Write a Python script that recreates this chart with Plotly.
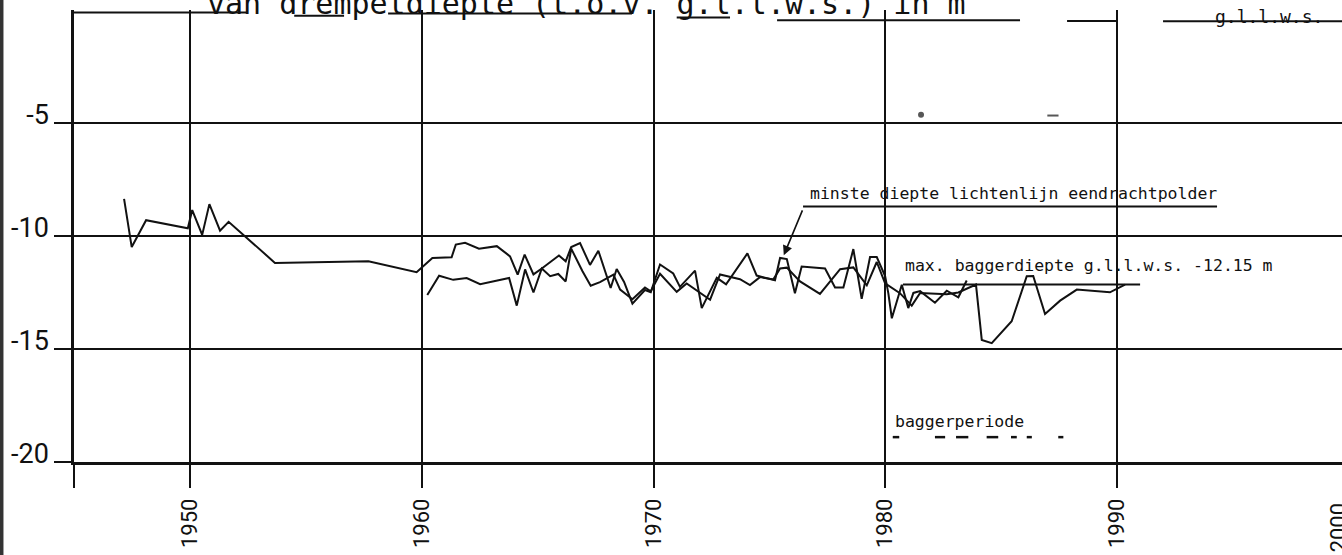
import plotly.graph_objects as go

# minste diepte, upper line (from 1947)
years_a = [1947.16, 1947.49, 1948.11, 1949.91, 1950.10, 1950.53, 1950.84, 1951.30, 1951.67,
           1953.67, 1957.70, 1959.78, 1960.46, 1961.29, 1961.47, 1961.87, 1962.47, 1963.24,
           1963.81, 1964.14, 1964.44, 1964.82, 1965.18, 1965.92, 1966.21, 1966.45, 1966.83,
           1967.26, 1967.62, 1968.15, 1968.41, 1968.73, 1969.09, 1969.63, 1969.88, 1970.28,
           1970.85, 1971.14, 1971.79, 1972.08, 1972.73, 1973.13, 1974.05, 1974.45, 1975.24,
           1975.46, 1975.75, 1976.10, 1976.39, 1977.40, 1977.83, 1978.19, 1978.62, 1978.98,
           1979.34, 1979.63, 1979.99, 1980.13, 1980.28, 1980.56, 1980.71, 1980.99, 1981.21,
           1981.50, 1982.14, 1982.65, 1983.15, 1983.51]
depth_a = [-8.36, -10.49, -9.30, -9.66, -8.85, -9.95, -8.59, -9.76, -9.37,
           -11.19, -11.12, -11.60, -10.97, -10.94, -10.38, -10.30, -10.56, -10.45,
           -10.90, -11.71, -10.82, -11.70, -11.44, -10.86, -11.12, -10.49, -10.31,
           -11.28, -10.65, -12.30, -11.46, -12.03, -12.99, -12.39, -12.49, -11.26,
           -11.66, -12.25, -11.53, -13.19, -11.85, -12.14, -10.77, -11.75, -11.96,
           -10.97, -11.02, -12.53, -11.35, -11.44, -12.28, -12.28, -10.58, -12.78,
           -10.93, -10.93, -11.77, -12.54, -13.64, -12.60, -12.16, -13.19, -12.52,
           -12.44, -12.95, -12.42, -12.71, -11.97]

# lower line (from 1960)
years_b = [1960.24, 1960.75, 1961.36, 1961.94, 1962.52, 1963.77, 1964.10, 1964.46, 1964.82,
           1965.18, 1965.54, 1965.89, 1966.21, 1966.45, 1966.93, 1967.29, 1967.69, 1968.27,
           1968.56, 1969.09, 1969.63, 1969.88, 1970.28, 1971.00, 1971.43, 1972.44, 1972.87,
           1973.73, 1974.16, 1974.59, 1975.17, 1975.46, 1975.75, 1976.32, 1977.18, 1978.05,
           1978.62, 1979.20, 1979.63, 1979.99, 1980.63, 1981.14, 1981.50, 1982.07, 1982.65,
           1983.15, 1983.91, 1984.16, 1984.59, 1985.45, 1986.10, 1986.38, 1986.89, 1987.54,
           1988.26, 1989.69, 1990.34]
depth_b = [-12.61, -11.76, -11.94, -11.86, -12.13, -11.86, -13.08, -11.48, -12.50,
           -11.44, -11.78, -11.68, -12.01, -10.56, -11.55, -12.20, -12.04, -11.71,
           -12.37, -12.80, -12.28, -12.45, -11.67, -12.47, -12.10, -12.82, -11.70,
           -11.91, -12.17, -11.82, -11.92, -11.44, -11.40, -12.01, -12.56, -11.47,
           -11.39, -12.18, -11.15, -12.10, -12.53, -13.08, -12.52, -12.55, -12.58,
           -12.50, -12.15, -14.60, -14.74, -13.77, -11.78, -11.77, -13.45, -12.86,
           -12.37, -12.49, -12.15]

# baggerperiode
dredge_start = [1980.32, 1982.14, 1983.05, 1984.37, 1985.42, 1986.10, 1987.46]
dredge_end = [1980.60, 1982.58, 1983.58, 1984.87, 1985.67, 1986.32, 1987.68]
dredge_level = -18.9

max_dredge_depth = -12.15

y_ticks = [-20, -15, -10, -5]
y_labels = ["-20", "-15", "-10", "-5"]
x_ticks = [1945, 1950, 1960, 1970, 1980, 1990]
x_labels = ["", "1950", "1960", "1970", "1980", "1990"]

# loose specks on the sheet
speck_x = [1981.54, 1987.23]
speck_y = [-4.64, -4.67]

INK = "#111111"
MONO = "DejaVu Sans Mono"
SANS = "Roboto"

fig = go.Figure()
fig.add_trace(go.Scatter(x=years_a, y=depth_a, mode="lines",
                         line=dict(color=INK, width=2), hoverinfo="skip"))
fig.add_trace(go.Scatter(x=years_b, y=depth_b, mode="lines",
                         line=dict(color=INK, width=2), hoverinfo="skip"))

dx, dy = [], []
for s, e in zip(dredge_start, dredge_end):
    dx += [s, e, None]
    dy += [dredge_level, dredge_level, None]
fig.add_trace(go.Scatter(x=dx, y=dy, mode="lines", line=dict(color=INK, width=2.5),
                         hoverinfo="skip"))
fig.add_trace(go.Scatter(x=speck_x, y=speck_y, mode="markers",
                         marker=dict(symbol=["circle", "line-ew"], size=[4, 8], color=INK,
                                     line=dict(color=INK, width=2)),
                         hoverinfo="skip"))

# max. baggerdiepte line
fig.add_shape(type="line", x0=1980.76, x1=1990.99, y0=max_dredge_depth, y1=max_dredge_depth,
              line=dict(color=INK, width=2))
# underline of the label text
fig.add_shape(type="line", x0=1976.45, x1=1994.31, y0=-8.7, y1=-8.7,
              line=dict(color=INK, width=2))

# title underlines (top edge of the sheet)
for x0, x1, y in [(1945, 1952.5, -0.11), (1954.5, 1956.65, -0.25), (1958.55, 1969.07, -0.16),
                  (1971.0, 1973.3, -0.33), (1975.33, 1985.81, -0.45), (1987.84, 1989.95, -0.49),
                  (1991.98, 1999.7, -0.5)]:
    fig.add_shape(type="line", x0=x0, x1=x1, y0=y, y1=y, line=dict(color=INK, width=2))

# scan edge on the left
fig.add_shape(type="line", xref="paper", yref="paper", x0=-0.0572, x1=-0.0572, y0=-0.25, y1=1.05,
              line=dict(color="#333333", width=4))

fig.add_annotation(x=1976.67, y=-8.12, xref="x", yref="y", xanchor="left", yanchor="middle",
                   text="minste diepte lichtenlijn eendrachtpolder", showarrow=False,
                   font=dict(family=MONO, size=16.5, color=INK))
fig.add_annotation(x=1975.62, y=-10.85, ax=1976.45, ay=-8.8, xref="x", yref="y", axref="x", ayref="y",
                   text="", showarrow=True, arrowhead=2, arrowsize=1.2, arrowwidth=1.6,
                   arrowcolor=INK)
fig.add_annotation(x=1980.76, y=-11.3, xref="x", yref="y", xanchor="left", yanchor="middle",
                   text="max. baggerdiepte g.l.l.w.s. -12.15 m", showarrow=False,
                   font=dict(family=MONO, size=16.5, color=INK))
fig.add_annotation(x=1980.32, y=-18.2, xref="x", yref="y", xanchor="left", yanchor="middle",
                   text="baggerperiode", showarrow=False,
                   font=dict(family=MONO, size=16.5, color=INK))
fig.add_annotation(x=0.1033, y=1.015, xref="paper", yref="paper", xanchor="left", yanchor="middle",
                   text="van drempeldiepte (t.o.v. g.l.l.w.s.) in m", showarrow=False,
                   font=dict(family=MONO, size=30, color=INK))
fig.add_annotation(x=0.898, y=0.985, xref="paper", yref="paper", xanchor="left", yanchor="middle",
                   text="g.l.l.w.s.", showarrow=False,
                   font=dict(family=MONO, size=18, color=INK))
fig.add_annotation(x=0.9975, y=-0.145, xref="paper", yref="paper", xanchor="center", yanchor="middle",
                   text="2000", textangle=-90, showarrow=False,
                   font=dict(family=SANS, size=22, color=INK))

fig.update_layout(
    width=1342, height=555,
    margin=dict(l=74, r=0, t=10, b=93),
    paper_bgcolor="white", plot_bgcolor="white",
    showlegend=False,
)
fig.update_xaxes(
    range=[1945, 1999.7], tickvals=x_ticks, ticktext=x_labels, automargin=False,
    showgrid=True, gridcolor=INK, gridwidth=1.5, zeroline=False,
    showline=True, linecolor=INK, linewidth=2.5,
    ticks="outside", ticklen=23, tickwidth=1.5, tickcolor=INK,
    tickangle=-90, ticklabelstandoff=2,
    tickfont=dict(family=SANS, size=22, color=INK),
)
fig.update_yaxes(
    range=[-20, 0], tickvals=y_ticks, ticktext=y_labels, automargin=False,
    showgrid=True, gridcolor=INK, gridwidth=1.5, zeroline=False,
    showline=True, linecolor=INK, linewidth=2.5,
    ticks="outside", ticklen=17, tickwidth=1.5, tickcolor=INK,
    ticklabelstandoff=0, ticklabelshift=-8,
    tickfont=dict(family=SANS, size=27, color=INK),
)

fig.write_html("out.html", config={"displayModeBar": False},
               post_script="document.body.style.margin='0';")
